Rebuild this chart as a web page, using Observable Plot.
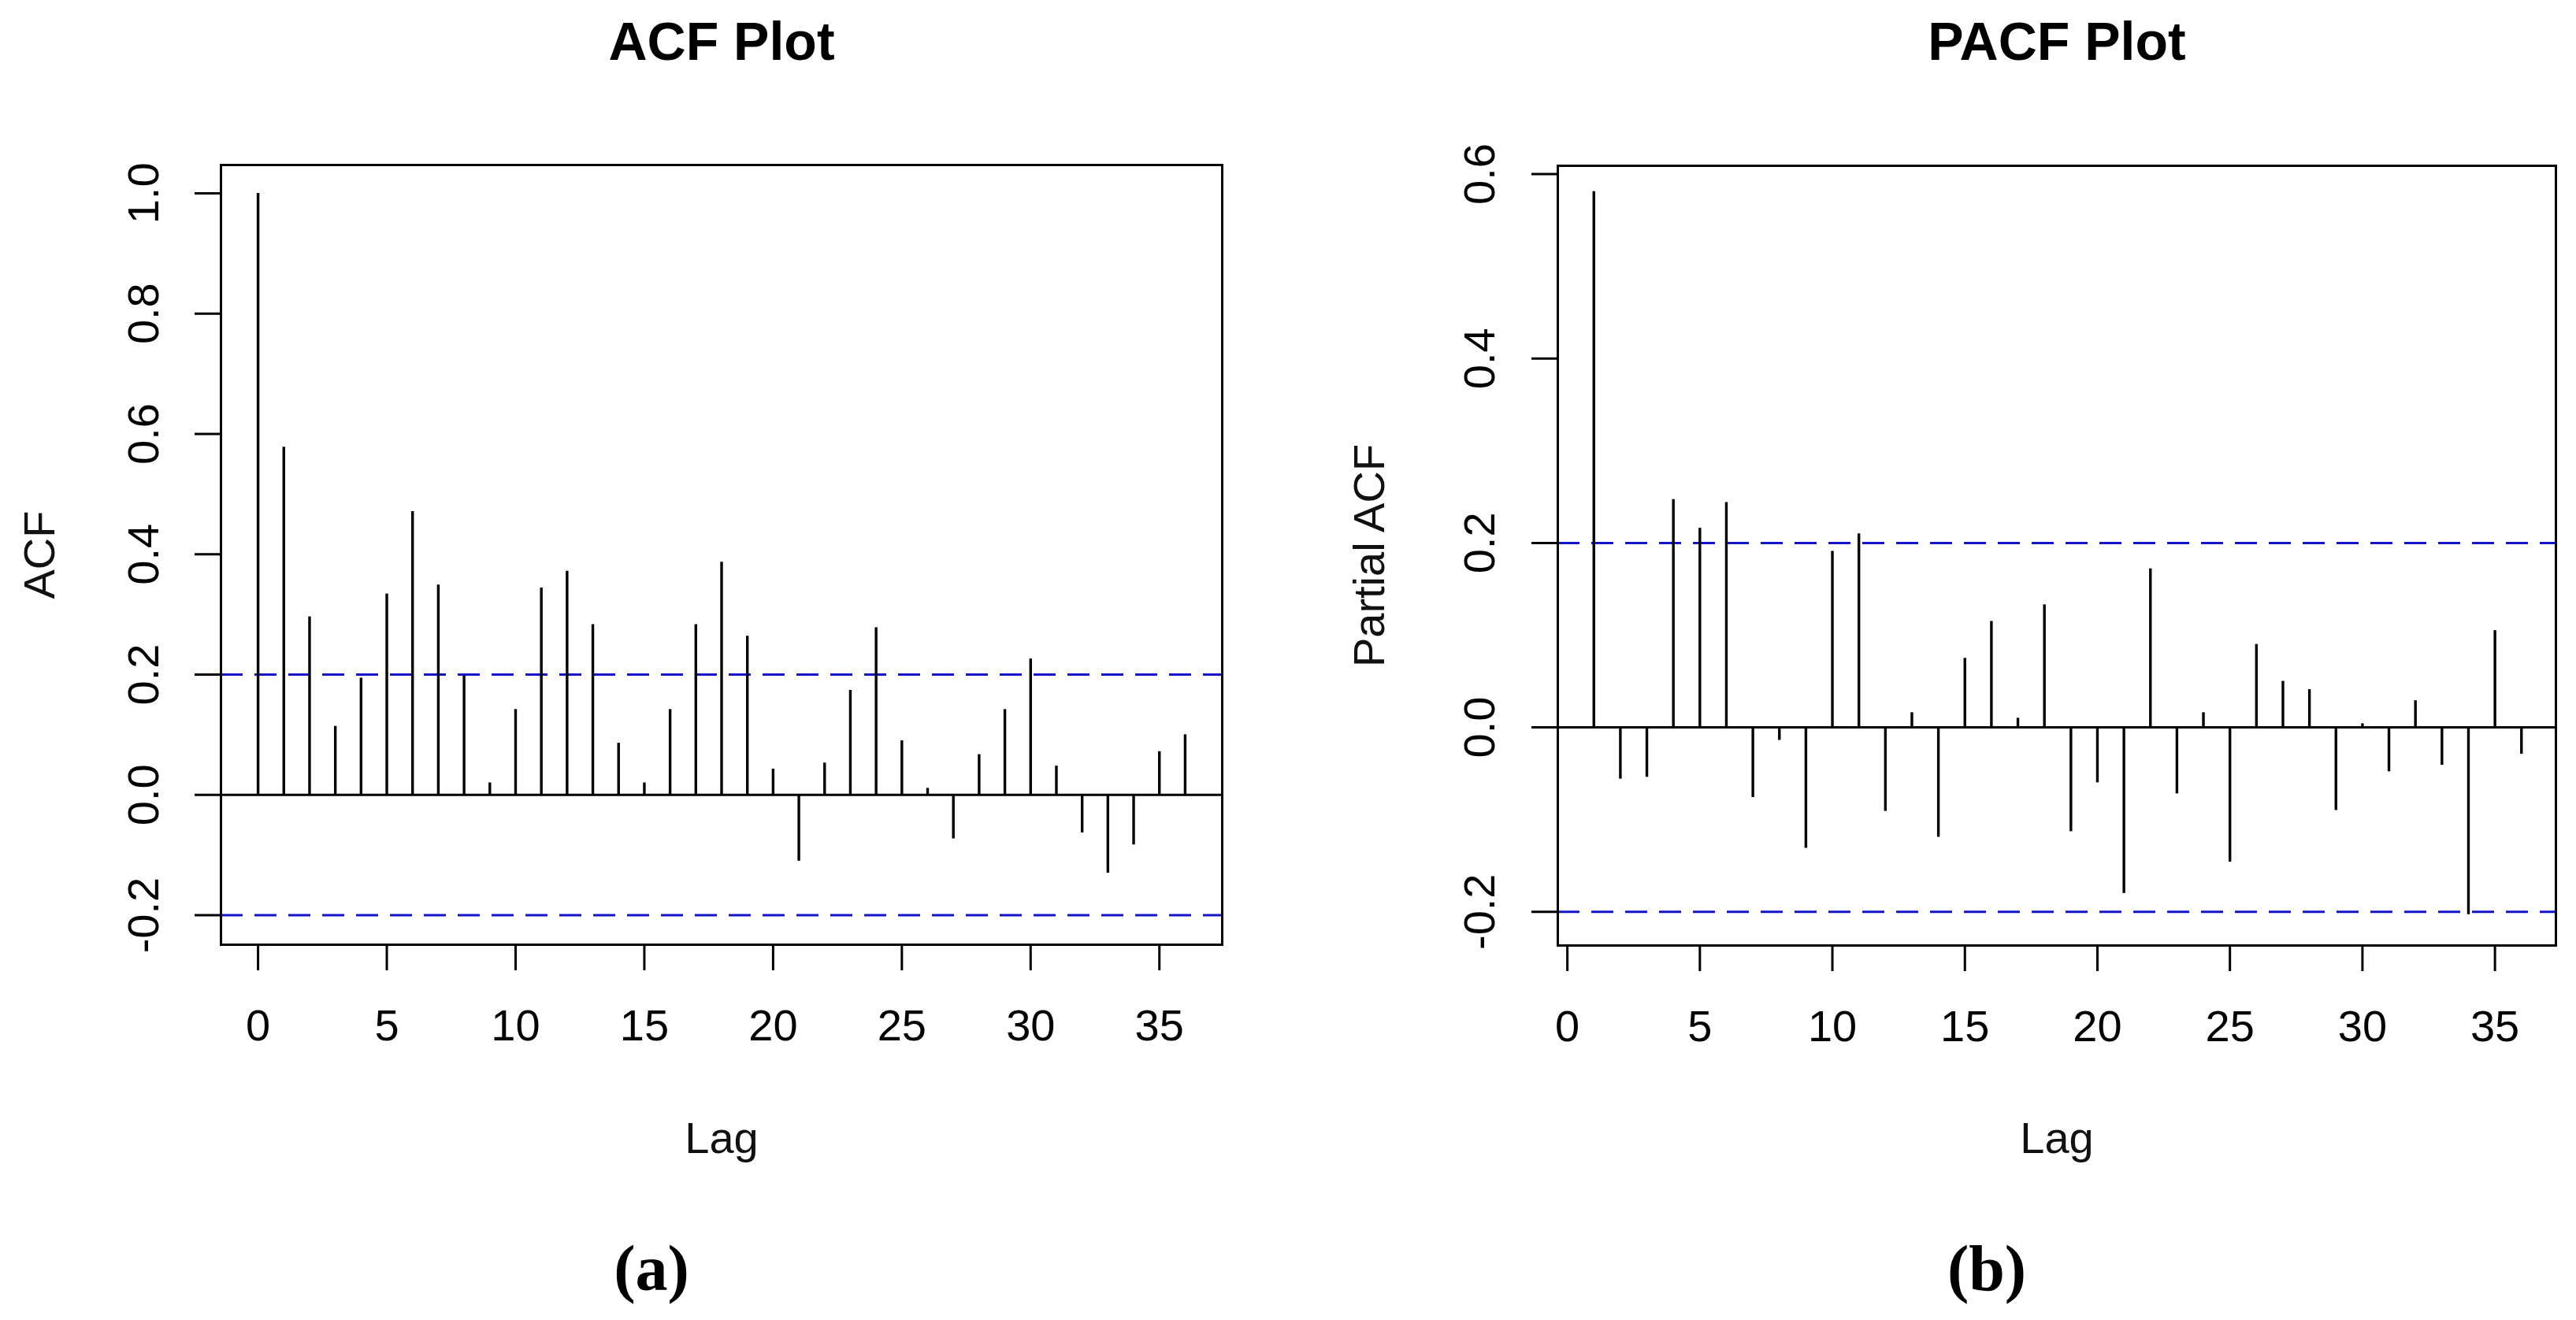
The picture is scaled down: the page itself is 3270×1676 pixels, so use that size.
<!DOCTYPE html>
<html><head><meta charset="utf-8">
<script src="https://cdn.jsdelivr.net/npm/d3@7"></script>
<script src="https://cdn.jsdelivr.net/npm/@observablehq/plot@0.6"></script>
<style>
html,body{margin:0;padding:0;background:#fff;}
#wrap{position:relative;width:3270px;height:1676px;overflow:hidden;background:#fff;}
#wrap > svg{position:absolute;top:0;}
</style></head><body><div id="wrap"></div>
<script>
// ---- data ----
const acfLags = [0,1,2,3,4,5,6,7,8,9,10,11,12,13,14,15,16,17,18,19,20,21,22,23,24,25,26,27,28,29,30,31,32,33,34,35,36];
const acfValues = [1.000,0.578,0.296,0.114,0.194,0.334,0.471,0.349,0.198,0.020,0.142,0.344,0.372,0.283,0.086,0.020,0.142,0.283,0.387,0.264,0.043,-0.110,0.053,0.174,0.278,0.090,0.011,-0.073,0.067,0.142,0.226,0.048,-0.063,-0.130,-0.083,0.072,0.100];
const pacfLags = [1,2,3,4,5,6,7,8,9,10,11,12,13,14,15,16,17,18,19,20,21,22,23,24,25,26,27,28,29,30,31,32,33,34,35,36];
const pacfValues = [0.581,-0.056,-0.054,0.247,0.216,0.244,-0.076,-0.014,-0.131,0.191,0.210,-0.091,0.016,-0.119,0.075,0.115,0.010,0.133,-0.113,-0.060,-0.180,0.172,-0.072,0.016,-0.146,0.090,0.050,0.041,-0.090,0.004,-0.048,0.029,-0.041,-0.203,0.105,-0.029];
const confLimits = [0.2, -0.2];
const lagTicks = [0,5,10,15,20,25,30,35];
const acfTicks = [-0.2,0.0,0.2,0.4,0.6,0.8,1.0];
const pacfTicks = [-0.2,0.0,0.2,0.4,0.6];
const titles = ["ACF Plot","PACF Plot"];
const yLabels = ["ACF","Partial ACF"];
const xLabel = "Lag";
const captions = ["(a)","(b)"];

const SANS = "'Liberation Sans', Arial, Helvetica, sans-serif";
const SERIF = "'Liberation Serif', 'Times New Roman', serif";

function panel(o) {
  const rows = o.lags.map((l, i) => ({lag: l, value: o.values[i]}));
  return Plot.plot({
    width: o.width, height: 1676,
    marginLeft: o.ml, marginRight: o.mr, marginTop: o.mt, marginBottom: 1676 - o.bottom,
    style: {fontFamily: SANS, fontSize: "55px", background: "transparent", color: "#000", overflow: "visible"},
    x: {domain: o.xDomain, label: null},
    y: {domain: o.yDomain, label: null},
    marks: [
      Plot.ruleY(confLimits, {stroke: "#1414c8", strokeWidth: 3, strokeDasharray: "28,15"}),
      Plot.ruleY([0], {stroke: "#000", strokeWidth: 3}),
      Plot.ruleX(rows, {x: "lag", y1: 0, y2: "value", stroke: "#000", strokeWidth: 3.4}),
      Plot.frame({stroke: "#000", strokeWidth: 3}),
      Plot.axisX(lagTicks, {label: null, tickSize: 33, tickPadding: 49, fontSize: 56, strokeWidth: 3, tickFormat: d => String(d)}),
      Plot.axisY(o.yTicks, {label: null, tickSize: 33, tickPadding: o.yPad, tickRotate: -90, fontSize: 56, strokeWidth: 3, tickFormat: d => d.toFixed(1)}),
      Plot.text([o.title], {text: d => d, frameAnchor: "top", dy: 75 - o.mt, lineAnchor: "bottom", fontSize: 68, fontWeight: "bold", fill: "#000"}),
      Plot.text([o.ylab], {text: d => d, frameAnchor: "left", dx: -o.ylabOff, rotate: -90, lineAnchor: "bottom", textAnchor: "middle", fontSize: 56, fill: "#111"}),
      Plot.text([xLabel], {text: d => d, frameAnchor: "bottom", dy: 1463 - o.bottom, lineAnchor: "bottom", fontSize: 56, fill: "#111"}),
      Plot.text([o.caption], {text: d => d, frameAnchor: "bottom", dx: -89, dy: 1637 - o.bottom, lineAnchor: "bottom", fontSize: 82, fontWeight: "bold", fontFamily: SERIF, fill: "#000"})
    ]
  });
}

const wrap = document.getElementById("wrap");
const a = panel({width: 1635, ml: 280, mr: 84, mt: 209, bottom: 1199,
  xDomain: [-1.44, 37.44], yDomain: [-0.249, 1.047], yTicks: acfTicks, yPad: 47,
  lags: acfLags, values: acfValues, title: titles[0], ylab: yLabels[0], ylabOff: 212, caption: captions[0]});
a.style.left = "0px";
wrap.appendChild(a);
const b = panel({width: 1635, ml: 342, mr: 26, mt: 210, bottom: 1200,
  xDomain: [-0.36, 37.3], yDomain: [-0.2365, 0.609], yTicks: pacfTicks, yPad: 48,
  lags: pacfLags, values: pacfValues, title: titles[1], ylab: yLabels[1], ylabOff: 221, caption: captions[1]});
b.style.left = "1635px";
wrap.appendChild(b);
</script>
</body></html>
